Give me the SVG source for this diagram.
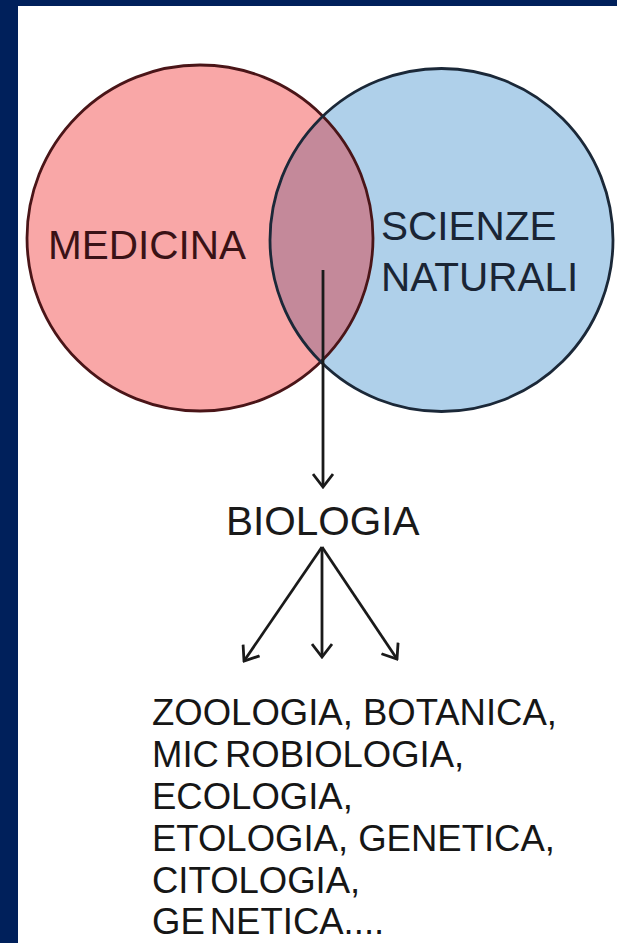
<svg xmlns="http://www.w3.org/2000/svg" width="617" height="943" viewBox="0 0 617 943">
<style>
.frame{fill:#00205b}
.lbl{font-family:"Liberation Sans",Arial,sans-serif;font-size:40.5px}
.list{font-family:"Liberation Sans",Arial,sans-serif;font-size:36.5px;fill:#161616}
.conn{stroke:#1a1a1a;stroke-width:2.8;fill:none}
</style>
<defs>
<marker id="vhead" viewBox="-14 -11 16 22" markerWidth="16" markerHeight="22" refX="0" refY="0" orient="auto" markerUnits="userSpaceOnUse">
<path d="M -13 -10 L 0 0 L -13 10" fill="none" stroke="#1a1a1a" stroke-width="2.8"/>
</marker>
<clipPath id="redclip"><circle cx="200" cy="238" r="173"/></clipPath>
</defs>
<rect width="617" height="943" fill="#ffffff"/>
<rect class="frame" x="0" y="0" width="617" height="6"/>
<rect class="frame" x="0" y="0" width="18" height="943"/>
<g id="medicina">
<circle cx="200" cy="238" r="173" fill="#f9a7a7"/>
</g>
<g id="scienze-naturali">
<circle cx="441.5" cy="240" r="171.5" fill="#afd0ea"/>
</g>
<g id="intersezione">
<circle cx="441.5" cy="240" r="171.5" fill="#c4899a" clip-path="url(#redclip)"/>
<circle cx="200" cy="238" r="173" fill="none" stroke="#4a1518" stroke-width="2.8"/>
<circle cx="441.5" cy="240" r="171.5" fill="none" stroke="#1b2838" stroke-width="2.8"/>
<text class="lbl" x="48" y="259" fill="#3a1216">MEDICINA</text>
<text class="lbl" x="381" y="240" fill="#1a2535">SCIENZE</text>
<text class="lbl" x="381" y="291" fill="#1a2535">NATURALI</text>
</g>
<g id="biologia">
<text class="lbl" x="226" y="535" fill="#1a1a1a">BIOLOGIA</text>
</g>
<g id="discipline">
<text class="list" x="152" y="725">ZOOLOGIA, BOTANICA,</text>
<text class="list" x="152" y="767">MIC<tspan dx="6">ROBIOLOGIA,</tspan></text>
<text class="list" x="152" y="809">ECOLOGIA,</text>
<text class="list" x="152" y="851">ETOLOGIA, GENETICA,</text>
<text class="list" x="152" y="893">CITOLOGIA,</text>
<text class="list" x="152" y="934">GE<tspan dx="5">NETICA....</tspan></text>
</g>
<g id="connectors">
<line class="conn" x1="323" y1="270" x2="323" y2="487" marker-end="url(#vhead)"/>
<line class="conn" x1="322" y1="547" x2="244" y2="661" marker-end="url(#vhead)"/>
<line class="conn" x1="322" y1="547" x2="322" y2="657" marker-end="url(#vhead)"/>
<line class="conn" x1="322" y1="547" x2="397" y2="659" marker-end="url(#vhead)"/>
</g>
</svg>
